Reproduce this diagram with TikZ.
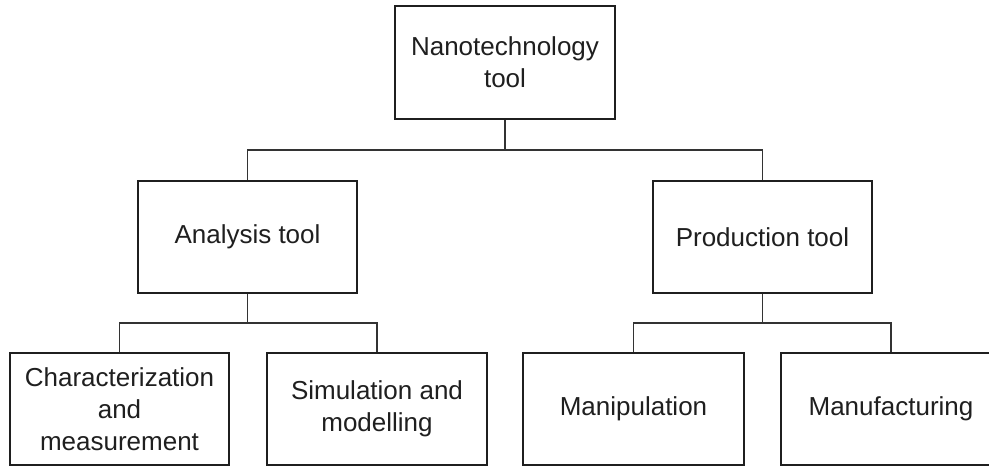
\documentclass[tikz,border=0pt]{standalone}
\usepackage{fontspec}
\setmainfont{Liberation Sans}
\begin{document}
\begin{tikzpicture}[x=1pt,y=-1pt,
  box/.style={draw=black!88, line width=2.4pt, rectangle, inner sep=0pt,
    minimum width=219pt, minimum height=112pt, align=center,
    text=black!88, font=\fontsize{26}{32}\selectfont},
  link/.style={draw=black!80, line width=1.1pt}]
\useasboundingbox (0,0) rectangle (989,467);
\clip (0,0) rectangle (989,467);
\fill[white] (0,0) rectangle (989,467);

% tree of boxes
\node[box, minimum width=220pt, minimum height=113pt] (top) at (505,62.5) {Nanotechnology\\tool};
\node[box] (ana)  at (247.5,237) {Analysis tool};
\node[box] (prod) at (762.5,237) {Production tool};
\node[box] (char) at (119.5,409) {Characterization\\and\\measurement};
\node[box, minimum width=220pt] (sim)  at (377,409) {Simulation and\\modelling};
\node[box, minimum width=221pt] (manip) at (633.5,409) {Manipulation};
\node[box, minimum width=220pt] (manuf) at (891,409) {Manufacturing};

% junction points of the elbow connectors
\coordinate (j1) at (505,150);
\coordinate (j2) at (247.5,323);
\coordinate (j3) at (762.5,323);

\draw[link] (top.south) -- (j1);
\draw[link] (ana.north) |- (j1) -| (prod.north);
\draw[link] (ana.south) -- (j2);
\draw[link] (char.north) |- (j2) -| (sim.north);
\draw[link] (prod.south) -- (j3);
\draw[link] (manip.north) |- (j3) -| (manuf.north);
\end{tikzpicture}
\end{document}
